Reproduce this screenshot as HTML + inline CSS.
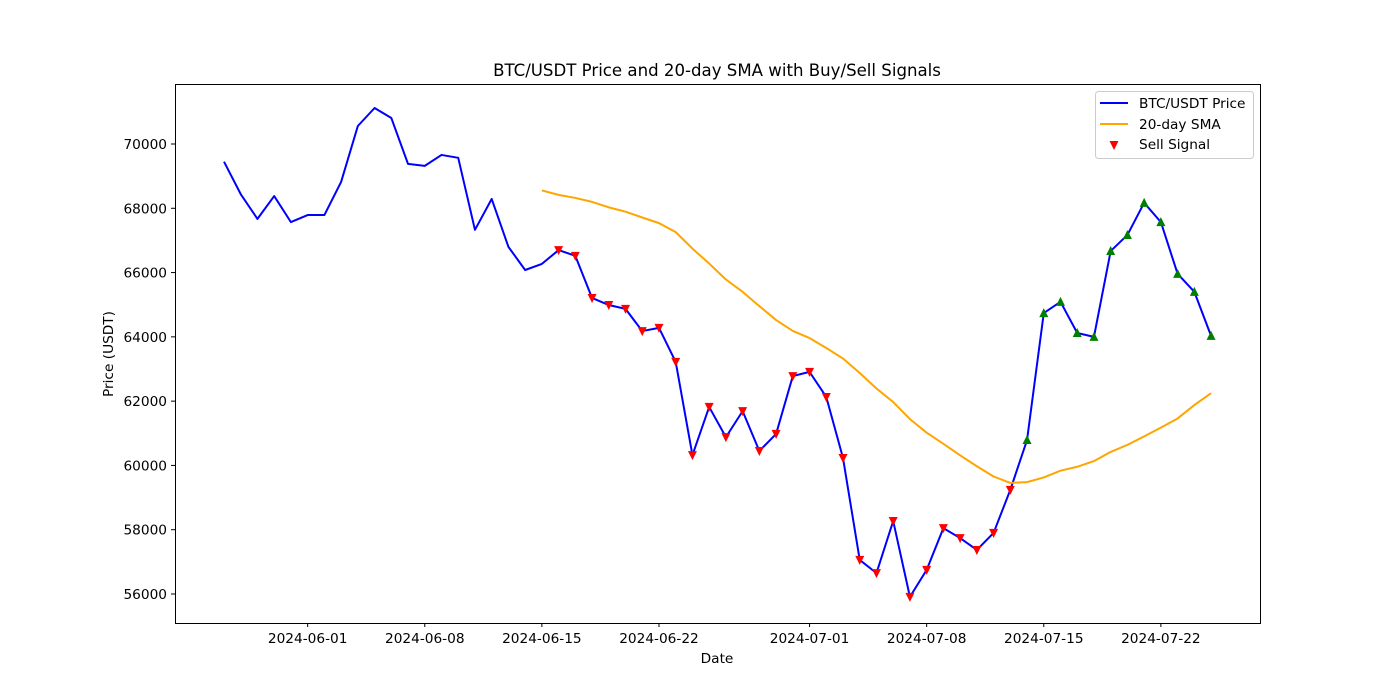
<!DOCTYPE html>
<html><head><meta charset="utf-8"><style>
body{margin:0;background:#fff;}
svg{display:block;font-family:"DejaVu Sans","Liberation Sans",sans-serif;}
</style></head><body>
<svg id="chart" width="1400" height="700">
<rect width="1400" height="700" fill="#fff"/>
<text x="717" y="76" text-anchor="middle" font-size="16.6">BTC/USDT Price and 20-day SMA with Buy/Sell Signals</text>
<g id="grid"></g>
<g id="plot"></g>
<rect x="175.5" y="84.5" width="1085" height="539" fill="none" stroke="#000" stroke-width="1"/>
<text x="717" y="663" text-anchor="middle" font-size="13.7">Date</text>
<text transform="translate(113,354) rotate(-90)" text-anchor="middle" font-size="13.7">Price (USDT)</text>
<g>
<rect x="1095.5" y="91.5" width="158" height="67" rx="3" fill="#fff" fill-opacity="0.8" stroke="#ccc"/>
<line x1="1100" y1="103" x2="1128" y2="103" stroke="blue" stroke-width="2"/>
<text x="1139" y="108" font-size="13.7">BTC/USDT Price</text>
<line x1="1100" y1="124" x2="1128" y2="124" stroke="orange" stroke-width="2"/>
<text x="1139" y="129" font-size="13.7">20-day SMA</text>
<path d="M1109.5,141 L1118.5,141 L1114,150 Z" fill="red"/>
<text x="1139" y="149" font-size="13.7">Sell Signal</text>
</g>
</svg>
<script>
const startDate = "2024-05-27";
const prices = [69450,68440,67670,68380,67570,67790,67790,68820,70560,71120,70810,69380,69320,69660,69570,67330,68290,66800,66080,66270,
66700,66520,65210,64990,64870,64180,64280,63220,60320,61820,60880,61690,60450,60980,62780,62910,62130,60230,57060,56650,
58270,55910,56750,58050,57740,57370,57900,59240,60790,64740,65090,64120,64000,66670,67170,68170,67570,65960,65400,64030];
const smaWindow = 20;
const yTicks = [56000,58000,60000,62000,64000,66000,68000,70000];
const xTickLabels = ["2024-06-01","2024-06-08","2024-06-15","2024-06-22","2024-07-01","2024-07-08","2024-07-15","2024-07-22"];

const NS="http://www.w3.org/2000/svg";
const t0=Date.parse(startDate+"T00:00:00Z");
const dayOf=s=>(Date.parse(s+"T00:00:00Z")-t0)/86400000;
const x=d=>224+d*16.73;
const y=v=>594-(v-56000)*0.032143;
const plot=document.getElementById('plot'), grid=document.getElementById('grid');
function mk(tag,attrs,parent){const e=document.createElementNS(NS,tag);for(const k in attrs)e.setAttribute(k,attrs[k]);parent.appendChild(e);return e;}

yTicks.forEach(v=>{
  const t=mk('line',{x1:171,x2:175,y1:y(v),y2:y(v),stroke:'#000'},grid);
  
  
  const l=mk('text',{x:167,y:y(v)+5,'text-anchor':'end','font-size':'13.7'},grid);
  
  
  l.textContent=v;
});
xTickLabels.forEach(s=>{
  const xx=x(dayOf(s));
  const t=mk('line',{x1:xx,x2:xx,y1:623,y2:627,stroke:'#000'},grid);
  
  
  const l=mk('text',{x:xx,y:643,'text-anchor':'middle','font-size':'13.7'},grid);
  
  
  l.textContent=s;
});

const sma=prices.map((p,i)=>i<smaWindow-1?null:prices.slice(i-smaWindow+1,i+1).reduce((a,b)=>a+b,0)/smaWindow);

const pl=mk('polyline',{points:prices.map((p,i)=>x(i)+','+y(p)).join(' '),fill:'none',stroke:'blue','stroke-width':2,'stroke-linejoin':'round'},plot);


const sl=mk('polyline',{points:sma.map((v,i)=>v===null?null:x(i)+','+y(v)).filter(Boolean).join(' '),fill:'none',stroke:'orange','stroke-width':2,'stroke-linejoin':'round'},plot);



prices.forEach((p,i)=>{
  if(i<smaWindow) return;
  const cx=x(i), cy=y(p);
  if(p<sma[i]){
    const m=mk('path',{d:`M${cx-4.5},${cy-4} L${cx+4.5},${cy-4} L${cx},${cy+5} Z`,fill:'red'},plot);
    
    
  } else {
    const m=mk('path',{d:`M${cx-4.5},${cy+4} L${cx+4.5},${cy+4} L${cx},${cy-5} Z`,fill:'green'},plot);
    
    
  }
});
</script>
</body></html>
